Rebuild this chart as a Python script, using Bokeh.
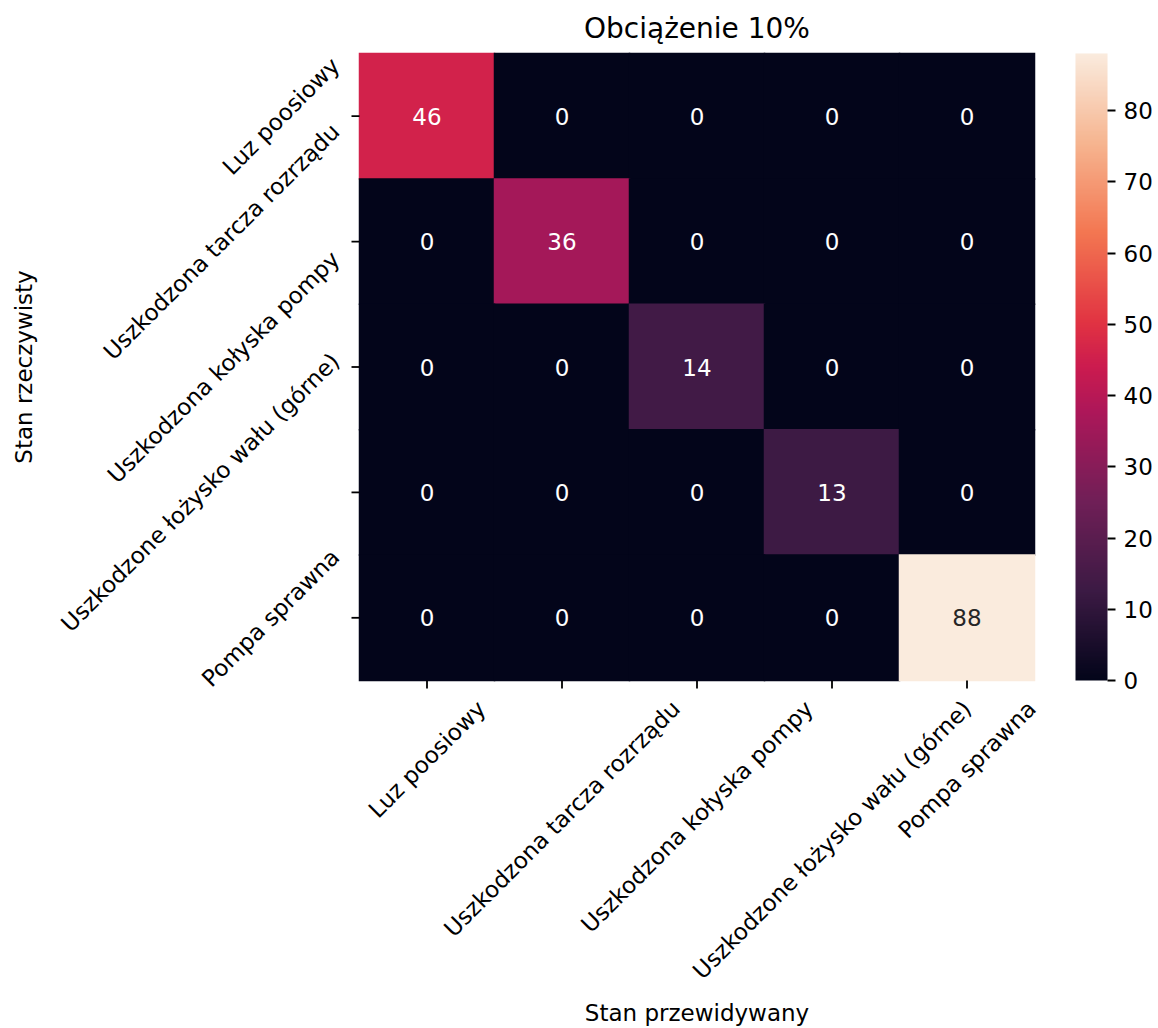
import glob
import math

from bokeh.core.properties import value
from bokeh.embed import file_html
from bokeh.models import (ColorBar, ColumnDataSource, FixedTicker, Label,
                          LinearColorMapper, Range1d)
from bokeh.plotting import figure
from bokeh.resources import INLINE

# ---- data -----------------------------------------------------------------
title_text = "Obciążenie 10%"
x_title = "Stan przewidywany"
y_title = "Stan rzeczywisty"

classes = [
    "Luz poosiowy",
    "Uszkodzona tarcza rozrządu",
    "Uszkodzona kołyska pompy",
    "Uszkodzone łożysko wału (górne)",
    "Pompa sprawna",
]

# confusion matrix: rows = actual state, columns = predicted state
row_luz = [46, 0, 0, 0, 0]
row_tarcza = [0, 36, 0, 0, 0]
row_kolyska = [0, 0, 14, 0, 0]
row_lozysko = [0, 0, 0, 13, 0]
row_sprawna = [0, 0, 0, 0, 88]
matrix = [row_luz, row_tarcza, row_kolyska, row_lozysko, row_sprawna]

cbar_ticks = [0, 10, 20, 30, 40, 50, 60, 70, 80]

# ---- colour map ("rocket"-like) --------------------------------------------
stop_pos = [0.0, 1 / 7, 2 / 7, 3 / 7, 0.5, 4 / 7, 5 / 7, 6 / 7, 1.0]
stop_col = ["#03051A", "#3C1A44", "#701F57", "#AD1759", "#CB1B4F",
            "#E13342", "#F37651", "#F6B48F", "#FAEBDD"]


def _rgb(h):
    return tuple(int(h[i:i + 2], 16) for i in (1, 3, 5))


def build_palette(pos, cols, n=256):
    out = []
    for i in range(n):
        t = i / (n - 1)
        j = 0
        while j < len(pos) - 2 and t > pos[j + 1]:
            j += 1
        f = (t - pos[j]) / (pos[j + 1] - pos[j])
        a, b = _rgb(cols[j]), _rgb(cols[j + 1])
        c = [round(a[m] + (b[m] - a[m]) * f) for m in range(3)]
        out.append("#%02x%02x%02x" % tuple(c))
    return out


palette = build_palette(stop_pos, stop_col)
vmin = 0
vmax = max(max(r) for r in matrix)

# ---- text metrics -----------------------------------------------------------
FONT = "DejaVu Sans"
FS = 23          # tick / label font size (px)
FS_TITLE = 28
TICK = 8
PAD = 8

_font_cache = {}


def text_width(s, size):
    try:
        from PIL import ImageFont
        if size not in _font_cache:
            paths = glob.glob("/usr/share/fonts/**/DejaVuSans.ttf", recursive=True)
            _font_cache[size] = ImageFont.truetype(paths[0], size)
        return _font_cache[size].getlength(s)
    except Exception:
        return 0.6 * size * len(s)


def rotated_half_extent(s, size):
    # half of the bounding-box side of a label turned by 45 degrees
    return (text_width(s, size) + size) / (2 * math.sqrt(2))


# ---- layout (page pixels) ----------------------------------------------------
W, H = 1158, 1028
FL, FR, FT, FB = 359, 1034, 53, 680          # heatmap edges
n = len(classes)
cw = (FR - FL) / n                           # pixels per column
ch = (FB - FT) / n                           # pixels per row

# the plot frame spans the whole page; ranges put the matrix at FL..FR, FT..FB
p = figure(width=W, height=H,
           x_range=Range1d(-FL / cw, (W - FL) / cw),
           y_range=Range1d(n + (H - FB) / ch, -FT / ch),
           min_border=0, x_axis_type=None, y_axis_type=None,
           toolbar_location=None, output_backend="svg",
           background_fill_color="white", border_fill_color="white")
p.outline_line_color = None
p.grid.visible = False


def sy(py):
    # page y (from top) -> screen units (from bottom)
    return H - py


# ---- cells -------------------------------------------------------------------
mapper = LinearColorMapper(palette=palette, low=vmin, high=vmax)

xs, ys, vals, txt, txt_col = [], [], [], [], []
for r, row in enumerate(matrix):
    for c, v in enumerate(row):
        xs.append(c + 0.5)
        ys.append(r + 0.5)
        vals.append(v)
        txt.append(str(v))
        idx = int(round((v - vmin) / (vmax - vmin) * (len(palette) - 1)))
        rr, gg, bb = [x / 255 for x in _rgb(palette[idx])]
        lin = [x / 12.92 if x <= 0.03928 else ((x + 0.055) / 1.055) ** 2.4
               for x in (rr, gg, bb)]
        lum = 0.2126 * lin[0] + 0.7152 * lin[1] + 0.0722 * lin[2]
        txt_col.append("#262626" if lum > 0.408 else "#ffffff")

src = ColumnDataSource(dict(x=xs, y=ys, v=vals, t=txt, tc=txt_col))
# cells overlap their neighbours by about one pixel so no seams show between them
overlap = 1.5
p.rect(x="x", y="y", width=1 + overlap / cw, height=1 + overlap / ch, source=src,
       fill_color={"field": "v", "transform": mapper}, line_color=None)
p.text(x="x", y="y", text="t", source=src, text_color="tc",
       text_align="center", text_baseline="middle",
       text_font=value(FONT), text_font_size=value(f"{FS}px"))

# ---- ticks -------------------------------------------------------------------
centers = [i + 0.5 for i in range(n)]
p.segment(x0=centers, x1=centers, y0=[n] * n, y1=[n + TICK / ch] * n,
          line_color="black", line_width=1.8)
p.segment(x0=[0] * n, x1=[-TICK / cw] * n, y0=centers, y1=centers,
          line_color="black", line_width=1.8)

# ---- rotated tick labels ---------------------------------------------------
for i, name in enumerate(classes):
    e = rotated_half_extent(name, FS)
    p.add_layout(Label(x=i + 0.5, y=sy(FB + TICK + PAD + e),
                       x_units="data", y_units="screen",
                       text=name, angle=math.pi / 4, text_align="center",
                       text_baseline="middle", text_font=FONT,
                       text_font_size=f"{FS}px", text_color="black"))
    p.add_layout(Label(x=FL - TICK - PAD - e, y=i + 0.5,
                       x_units="screen", y_units="data",
                       text=name, angle=math.pi / 4, text_align="center",
                       text_baseline="middle", text_font=FONT,
                       text_font_size=f"{FS}px", text_color="black"))

# ---- titles ---------------------------------------------------------------------
p.add_layout(Label(x=(FL + FR) / 2, y=sy(28), x_units="screen", y_units="screen",
                   text=title_text, text_align="center", text_baseline="middle",
                   text_font=FONT, text_font_size=f"{FS_TITLE}px", text_color="black"))
p.add_layout(Label(x=(FL + FR) / 2, y=sy(1012), x_units="screen", y_units="screen",
                   text=x_title, text_align="center", text_baseline="middle",
                   text_font=FONT, text_font_size=f"{FS}px", text_color="black"))
p.add_layout(Label(x=23, y=sy((FT + FB) / 2), x_units="screen", y_units="screen",
                   text=y_title, angle=math.pi / 2, text_align="center",
                   text_baseline="middle", text_font=FONT,
                   text_font_size=f"{FS}px", text_color="black"))

# ---- colour bar ----------------------------------------------------------------
cbar = ColorBar(color_mapper=mapper, ticker=FixedTicker(ticks=cbar_ticks),
                width=32, height=FB - FT, location=(FR + 41, sy(FB)),
                padding=0, margin=0, bar_line_color=None, border_line_color=None,
                background_fill_alpha=0,
                major_tick_in=0, major_tick_out=TICK,
                major_tick_line_color="black", major_tick_line_width=1.8,
                minor_tick_line_color=None, label_standoff=PAD,
                major_label_text_font=FONT, major_label_text_font_size=f"{FS}px",
                major_label_text_color="black")
p.add_layout(cbar, "center")

open("out.html", "w").write(file_html(p, INLINE))
